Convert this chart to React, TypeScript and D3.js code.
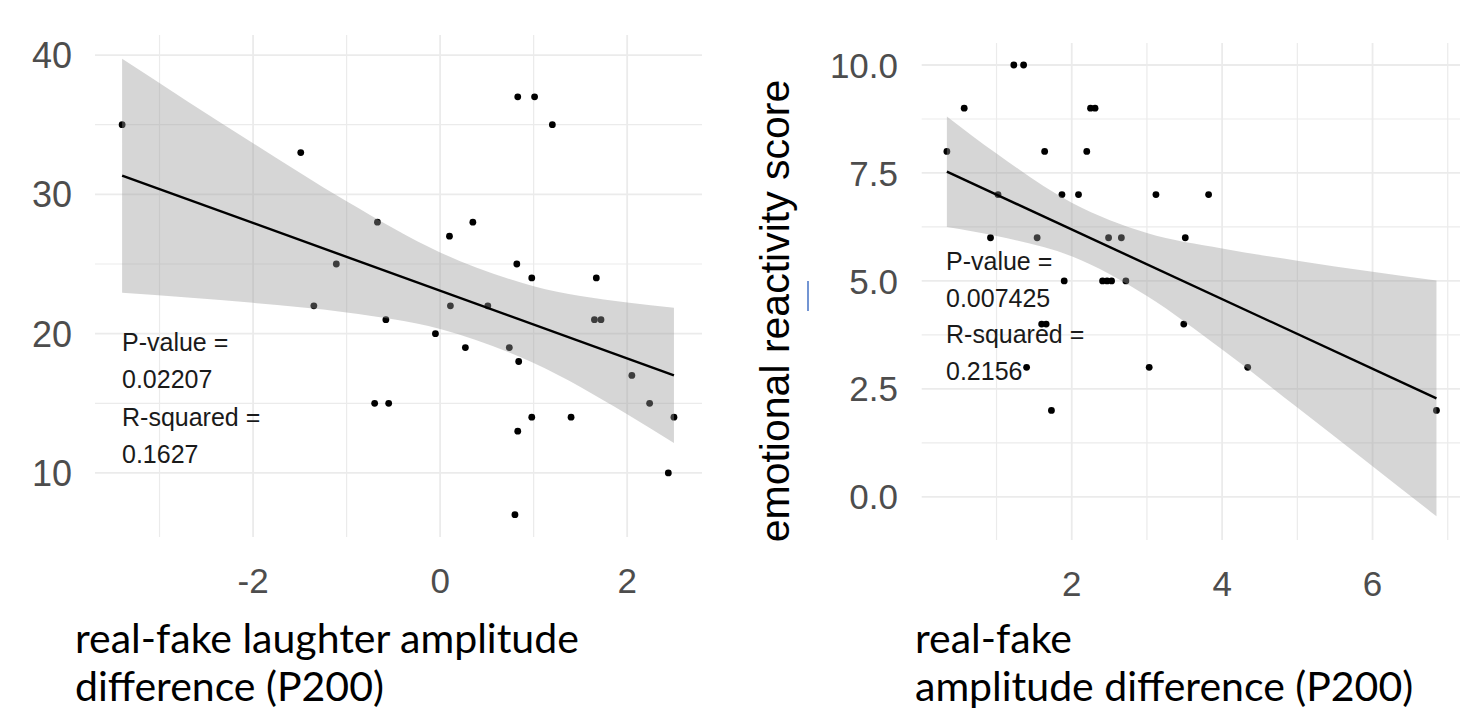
import React, { useRef, useEffect } from 'react';
import * as d3 from 'd3';

// ---- left panel: score vs laughter amplitude difference ----
const leftPoints: [number, number][] = [
  [-3.40, 35], [-1.49, 33], [-0.67, 28], [-1.11, 25], [0.83, 37], [1.01, 37],
  [1.20, 35], [0.35, 28], [0.10, 27], [0.82, 25], [0.98, 24], [1.67, 24],
  [-1.35, 22], [-0.58, 21], [-0.05, 20], [-0.70, 15], [-0.55, 15], [0.11, 22],
  [0.51, 22], [0.27, 19], [0.74, 19], [0.84, 18], [1.65, 21], [1.72, 21],
  [2.05, 17], [2.24, 15], [2.50, 14], [0.98, 14], [1.40, 14], [0.83, 13],
  [2.44, 10], [0.80, 7],
];
const leftFit: [number, number][] = [[-3.40, 31.35], [2.50, 17.0]];
const leftBandX = [-3.40, -2, -1, 0, 1, 2, 2.50];
const leftBandUpper = [39.74, 33.67, 29.5, 25.83, 23.41, 22.23, 21.85];
const leftBandLower = [22.94, 22.21, 21.52, 20.33, 17.89, 14.21, 12.15];
const leftXMajor = [-2, 0, 2];
const leftXMinor = [-3, -1, 1];
const leftYMajor = [10, 20, 30, 40];
const leftYMinor = [15, 25, 35];
const leftNote = ['P-value =', '0.02207', 'R-squared =', '0.1627'];
const leftTitle = ['real-fake laughter amplitude', 'difference (P200)'];

// ---- right panel: emotional reactivity score ----
const rightPoints: [number, number][] = [
  [1.23, 10], [1.36, 10], [0.57, 9], [2.25, 9], [2.31, 9], [0.34, 8],
  [1.64, 8], [2.20, 8], [1.02, 7], [1.87, 7], [2.09, 7], [3.12, 7],
  [3.82, 7], [0.92, 6], [1.54, 6], [2.49, 6], [2.66, 6], [3.51, 6],
  [1.90, 5], [2.41, 5], [2.47, 5], [2.53, 5], [2.72, 5], [1.60, 4],
  [1.66, 4], [3.49, 4], [1.40, 3], [3.03, 3], [4.34, 3], [1.73, 2],
  [6.85, 2],
];
const rightFit: [number, number][] = [[0.34, 7.53], [6.85, 2.28]];
const rightBandX = [0.34, 1, 2, 3, 4, 5, 6, 6.85];
const rightBandUpper = [8.81, 7.95, 6.81, 6.11, 5.75, 5.47, 5.21, 5.01];
const rightBandLower = [6.25, 6.04, 5.57, 4.65, 3.41, 2.07, 0.71, -0.45];
const rightXMajor = [2, 4, 6];
const rightXMinor = [1, 3, 5, 7];
const rightYMajor = [0, 2.5, 5, 7.5, 10];
const rightYMinor = [1.25, 3.75, 6.25, 8.75];
const rightNote = ['P-value =', '0.007425', 'R-squared =', '0.2156'];
const rightTitle = ['real-fake', 'amplitude difference (P200)'];
const rightYTitle = 'emotional reactivity score';

const W = 1482;
const H = 719;

type Panel = {
  points: [number, number][];
  fit: [number, number][];
  bandX: number[];
  upper: number[];
  lower: number[];
  xMajor: number[];
  xMinor: number[];
  yMajor: number[];
  yMinor: number[];
  x: d3.ScaleLinear<number, number>;
  y: d3.ScaleLinear<number, number>;
  yFmt: (v: number) => string;
  yLabelX: number;
  yLabelSize: number;
  xLabelY: number;
  note: string[];
  noteX: number;
  noteY: number;
  noteStep: number;
  title: string[];
  titleX: number;
  titleY: number;
};

function drawPanel(svg: d3.Selection<SVGSVGElement, unknown, null, undefined>, p: Panel) {
  const g = svg.append('g');
  const [x0, x1] = p.x.range();
  const [y0, y1] = p.y.range();

  // grid
  const vgrid = (vals: number[], w: number) => {
    g.selectAll(null).data(vals).enter().append('line')
      .attr('x1', d => p.x(d)).attr('x2', d => p.x(d))
      .attr('y1', y1).attr('y2', y0)
      .attr('stroke', '#ebebeb').attr('stroke-width', w);
  };
  const hgrid = (vals: number[], w: number) => {
    g.selectAll(null).data(vals).enter().append('line')
      .attr('x1', x0).attr('x2', x1)
      .attr('y1', d => p.y(d)).attr('y2', d => p.y(d))
      .attr('stroke', '#ebebeb').attr('stroke-width', w);
  };
  vgrid(p.xMinor, 1.2);
  hgrid(p.yMinor, 1.2);
  vgrid(p.xMajor, 1.8);
  hgrid(p.yMajor, 1.8);

  // points first, band drawn over them (as ggplot does)
  g.selectAll(null).data(p.points).enter().append('circle')
    .attr('cx', d => p.x(d[0]))
    .attr('cy', d => p.y(d[1]))
    .attr('r', 3.4)
    .attr('fill', '#000');

  const band = d3.area<number>()
    .x(d => p.x(d))
    .y0((d, i) => p.y(p.lower[i]))
    .y1((d, i) => p.y(p.upper[i]))
    .curve(d3.curveMonotoneX);
  g.append('path')
    .attr('d', band(p.bandX))
    .attr('fill', '#999999')
    .attr('fill-opacity', 0.4);

  const line = d3.line<[number, number]>().x(d => p.x(d[0])).y(d => p.y(d[1]));
  g.append('path')
    .attr('d', line(p.fit))
    .attr('fill', 'none')
    .attr('stroke', '#000')
    .attr('stroke-width', 2.4);

  // y tick labels
  g.selectAll(null).data(p.yMajor).enter().append('text')
    .attr('x', p.yLabelX)
    .attr('y', d => p.y(d))
    .attr('dy', '0.36em')
    .attr('text-anchor', 'end')
    .attr('font-family', '"Liberation Sans", Arial, sans-serif')
    .attr('font-size', p.yLabelSize)
    .attr('fill', '#4d4d4d')
    .text(d => p.yFmt(d));

  // x tick labels
  g.selectAll(null).data(p.xMajor).enter().append('text')
    .attr('x', d => p.x(d))
    .attr('y', p.xLabelY)
    .attr('text-anchor', 'middle')
    .attr('font-family', '"Liberation Sans", Arial, sans-serif')
    .attr('font-size', 35)
    .attr('fill', '#4d4d4d')
    .text(d => String(d));

  // annotation
  g.selectAll(null).data(p.note).enter().append('text')
    .attr('x', p.noteX)
    .attr('y', (d, i) => p.noteY + i * p.noteStep)
    .attr('font-family', '"Liberation Sans", Arial, sans-serif')
    .attr('font-size', 25)
    .attr('fill', '#1a1a1a')
    .text(d => d);

  // x axis title (pasted text, Calibri-like)
  g.selectAll(null).data(p.title).enter().append('text')
    .attr('x', p.titleX)
    .attr('y', (d, i) => p.titleY + i * 48)
    .attr('font-family', 'Lato, "Open Sans", sans-serif')
    .attr('font-size', 41)
    .attr('fill', '#000')
    .text(d => d);
}

const App = () => {
  const svgRef = useRef<SVGSVGElement>(null);

  useEffect(() => {
    const svg = d3.select(svgRef.current!);
    svg.selectAll('*').remove();

    svg.append('rect').attr('width', W).attr('height', H).attr('fill', '#fff');

    drawPanel(svg, {
      points: leftPoints,
      fit: leftFit,
      bandX: leftBandX,
      upper: leftBandUpper,
      lower: leftBandLower,
      xMajor: leftXMajor,
      xMinor: leftXMinor,
      yMajor: leftYMajor,
      yMinor: leftYMinor,
      x: d3.scaleLinear().domain([-3.69, 2.80]).range([95, 702]),
      y: d3.scaleLinear().domain([5.4, 41.44]).range([537, 35]),
      yFmt: d => String(d),
      yLabelX: 72,
      yLabelSize: 36,
      xLabelY: 593,
      note: leftNote,
      noteX: 122,
      noteY: 351,
      noteStep: 37.3,
      title: leftTitle,
      titleX: 75,
      titleY: 653,
    });

    drawPanel(svg, {
      points: rightPoints,
      fit: rightFit,
      bandX: rightBandX,
      upper: rightBandUpper,
      lower: rightBandLower,
      xMajor: rightXMajor,
      xMinor: rightXMinor,
      yMajor: rightYMajor,
      yMinor: rightYMinor,
      x: d3.scaleLinear().domain([0.005, 7.163]).range([921.7, 1460]),
      y: d3.scaleLinear().domain([-1.0, 10.51]).range([540, 43]),
      yFmt: d => d3.format('.1f')(d),
      yLabelX: 898,
      yLabelSize: 35,
      xLabelY: 596,
      note: rightNote,
      noteX: 946,
      noteY: 270,
      noteStep: 36.7,
      title: rightTitle,
      titleX: 915,
      titleY: 653,
    });

    // y axis title of right panel
    svg.append('text')
      .attr('transform', 'translate(789,311) rotate(-90)')
      .attr('text-anchor', 'middle')
      .attr('font-family', '"Liberation Sans", Arial, sans-serif')
      .attr('font-size', 41)
      .attr('fill', '#000')
      .text(rightYTitle);

    // stray blue tick mark next to the 5.0 label
    svg.append('line')
      .attr('x1', 808).attr('x2', 808)
      .attr('y1', 281).attr('y2', 311)
      .attr('stroke', '#4472c4')
      .attr('stroke-width', 1.5);
  }, []);

  return (
    <svg
      ref={svgRef}
      width={W}
      height={H}
      style={{ position: 'absolute', left: 0, top: 0 }}
    />
  );
};

export default App;
